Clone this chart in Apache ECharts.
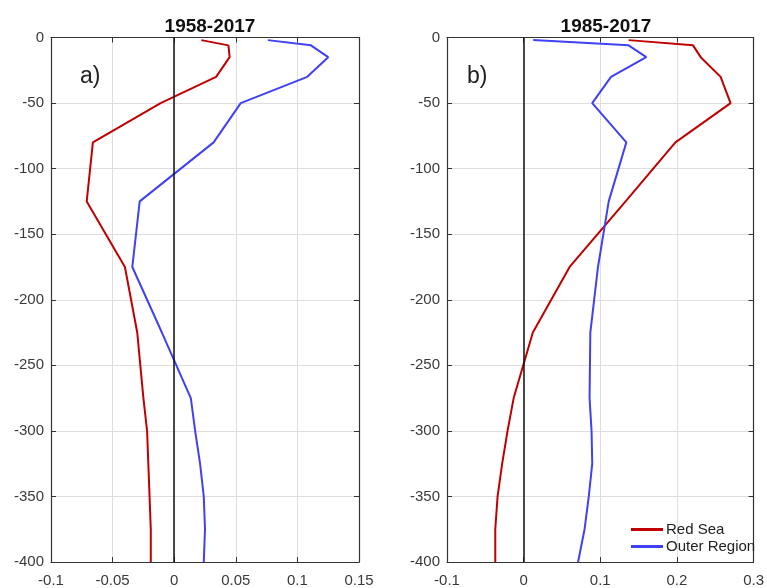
<!DOCTYPE html>
<html>
<head>
<meta charset="utf-8">
<script src="https://cdn.jsdelivr.net/npm/echarts@6/dist/echarts.min.js"></script>
<style>
  html, body { margin: 0; padding: 0; background: #fff; }
  #chart { width: 767px; height: 588px; }
</style>
</head>
<body>
<div id="chart"></div>
<script>
// Depth levels (m) of the profiles
const depths = [-2, -6, -15, -30, -50, -80, -125, -175, -225, -275, -300, -325, -350, -375, -400];

// Panel a) 1958-2017 trends
const redSeaA = [0.022, 0.044, 0.045, 0.034, -0.011, -0.066, -0.071, -0.040, -0.030, -0.025, -0.022, -0.021, -0.020, -0.019, -0.019];
const outerA  = [0.076, 0.111, 0.125, 0.108, 0.054, 0.032, -0.028, -0.034, -0.010, 0.0135, 0.017, 0.021, 0.024, 0.025, 0.024];

// Panel b) 1985-2017 trends
const redSeaB = [0.137, 0.221, 0.231, 0.257, 0.270, 0.198, 0.133, 0.060, 0.012, -0.013, -0.021, -0.028, -0.034, -0.037, -0.037];
const outerB  = [0.0125, 0.137, 0.160, 0.114, 0.0895, 0.134, 0.111, 0.097, 0.087, 0.086, 0.0886, 0.0895, 0.085, 0.0795, 0.071];

const panelTitles = ['1958-2017', '1985-2017'];
const panelTags = ['a)', 'b)'];
const seriesNames = ['Red Sea', 'Outer Region'];

const RED = '#c00000';
const BLUE = '#4040f4';
const AXIS = '#333333';
const GRIDC = '#dedede';
const LABEL = '#3a3a3a';
const FONT = 'Liberation Sans, Arial, Helvetica, sans-serif';

const pair = (xs) => xs.map((v, i) => [v, depths[i]]);

const grids = [
  { left: 51, top: 37.5, width: 308, height: 524.5 },
  { left: 447, top: 37.5, width: 308.5, height: 524.5 }
];
const xRanges = [
  { min: -0.1, max: 0.15, interval: 0.05 },
  { min: -0.1, max: 0.3, interval: 0.1 }
];

const xAxes = [], yAxes = [];
[0, 1].forEach(g => {
  // bottom axis with labels and grid lines
  xAxes.push({
    type: 'value', gridIndex: g, position: 'bottom', ...xRanges[g],
    axisLine: { show: true, onZero: false, lineStyle: { color: AXIS, width: 1.2 } },
    axisTick: { show: true, inside: true, length: 5, lineStyle: { color: AXIS } },
    axisLabel: { color: LABEL, fontSize: 15, fontFamily: FONT, margin: 11 },
    splitLine: { show: true, lineStyle: { color: GRIDC, width: 1 } }
  });
  // top frame edge with inward ticks
  xAxes.push({
    type: 'value', gridIndex: g, position: 'top', ...xRanges[g],
    axisLine: { show: true, onZero: false, lineStyle: { color: AXIS, width: 1.2 } },
    axisTick: { show: true, inside: true, length: 5, lineStyle: { color: AXIS } },
    axisLabel: { show: false },
    splitLine: { show: false }
  });
  yAxes.push({
    type: 'value', gridIndex: g, position: 'left', min: -400, max: 0, interval: 50,
    axisLine: { show: true, onZero: false, lineStyle: { color: AXIS, width: 1.2 } },
    axisTick: { show: true, inside: true, length: 5, lineStyle: { color: AXIS } },
    axisLabel: { color: LABEL, fontSize: 15, fontFamily: FONT, margin: 7 },
    splitLine: { show: true, lineStyle: { color: GRIDC, width: 1 } }
  });
  yAxes.push({
    type: 'value', gridIndex: g, position: 'right', min: -400, max: 0, interval: 50,
    axisLine: { show: true, onZero: false, lineStyle: { color: AXIS, width: 1.2 } },
    axisTick: { show: true, inside: true, length: 5, lineStyle: { color: AXIS } },
    axisLabel: { show: false },
    splitLine: { show: false }
  });
});

const zeroLine = {
  silent: true, symbol: 'none',
  label: { show: false },
  lineStyle: { color: '#111', width: 1.5, type: 'solid' },
  data: [{ xAxis: 0 }]
};

function profile(name, values, color, g, withZero) {
  const s = {
    name, type: 'line', xAxisIndex: g * 2, yAxisIndex: g * 2,
    data: pair(values), showSymbol: false, symbol: 'none',
    lineStyle: { color, width: 2 }, itemStyle: { color },
    animation: false, z: 3
  };
  if (withZero) s.markLine = zeroLine;
  return s;
}

const option = {
  animation: false,
  backgroundColor: '#fff',
  title: [
    { text: panelTitles[0], left: 205, top: 12, textAlign: 'center',
      textStyle: { fontSize: 19, fontWeight: 'bold', color: '#111', fontFamily: FONT } },
    { text: panelTitles[1], left: 601, top: 12, textAlign: 'center',
      textStyle: { fontSize: 19, fontWeight: 'bold', color: '#111', fontFamily: FONT } },
    { text: panelTags[0], left: 75, top: 60,
      textStyle: { fontSize: 23, fontWeight: 'normal', color: '#222', fontFamily: FONT } },
    { text: panelTags[1], left: 462, top: 60,
      textStyle: { fontSize: 23, fontWeight: 'normal', color: '#222', fontFamily: FONT } }
  ],
  legend: {
    orient: 'vertical', left: 626, top: 517,
    itemWidth: 32, itemHeight: 3, itemGap: 2,
    icon: 'rect',
    textStyle: { fontSize: 15, color: '#222', fontFamily: FONT, padding: [0, 0, 0, -2] },
    data: [
      { name: seriesNames[0], itemStyle: { color: RED } },
      { name: seriesNames[1], itemStyle: { color: BLUE } }
    ]
  },
  grid: grids,
  xAxis: xAxes,
  yAxis: yAxes,
  series: [
    profile(seriesNames[0], redSeaA, RED, 0, true),
    profile(seriesNames[1], outerA, BLUE, 0, false),
    profile(seriesNames[0], redSeaB, RED, 1, true),
    profile(seriesNames[1], outerB, BLUE, 1, false)
  ]
};

const chart = echarts.init(document.getElementById('chart'), null, { renderer: 'canvas' });
chart.setOption(option);
</script>
</body>
</html>
